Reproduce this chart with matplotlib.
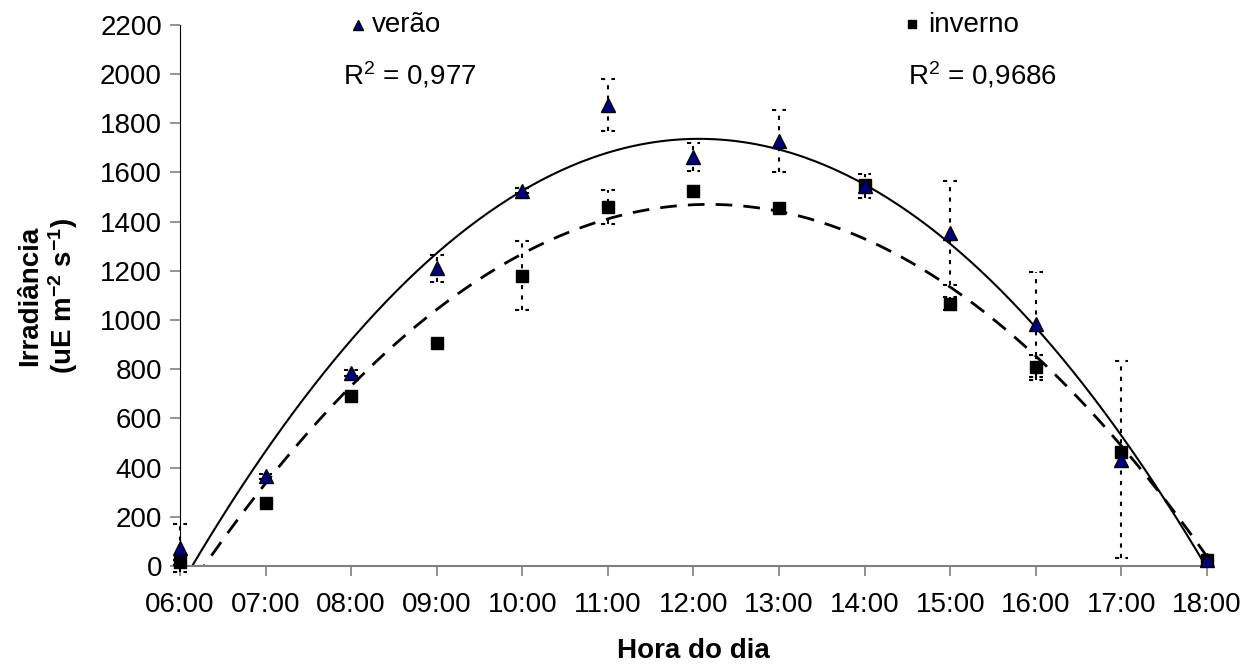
import numpy as np
import matplotlib
matplotlib.use('Agg')
import matplotlib.pyplot as plt
from matplotlib.lines import Line2D

plt.rcParams['font.family'] = ['Liberation Sans', 'DejaVu Sans']
plt.rcParams['mathtext.fontset'] = 'custom'
plt.rcParams['mathtext.rm'] = 'Liberation Sans'
plt.rcParams['mathtext.it'] = 'Liberation Sans'
plt.rcParams['mathtext.bf'] = 'Liberation Sans:bold'

#%% Data
horas = ['06:00', '07:00', '08:00', '09:00', '10:00', '11:00', '12:00',
         '13:00', '14:00', '15:00', '16:00', '17:00', '18:00']
hora_num = [6, 7, 8, 9, 10, 11, 12, 13, 14, 15, 16, 17, 18]

verao = [73, 364, 786, 1211, 1525, 1874, 1661, 1728, 1545, 1355, 982, 432, 25]
verao_err = [97, 12, 12, 55, 10, 107, 57, 125, 50, 211, 213, 400, 0]

inverno = [15, 258, 690, 905, 1181, 1460, 1525, 1457, 1549, 1067, 808, 462, 25]
inverno_err = [10, 0, 0, 0, 142, 70, 20, 0, 0, 25, 50, 0, 0]

r2_verao = '0,977'
r2_inverno = '0,9686'

#%% Settings
fsize = 20
cap = 0.08  # half width of error bar caps (hours)
cor_tri = '#000080'

fig = plt.figure(figsize=(12.54, 6.68), dpi=100)
ax = fig.add_axes([0.1435, 0.1527, 0.819, 0.81])

x = np.array(hora_num, dtype=float)

# 2nd order trendlines, like Excel
xx = np.linspace(6, 18, 300)
pv = np.polyfit(x, verao, 2)
pi = np.polyfit(x, inverno, 2)
ax.plot(xx, np.polyval(pv, xx), color='black', lw=1.5, zorder=2)
ax.plot(xx, np.polyval(pi, xx), color='black', lw=2, ls=(0, (6, 4)), zorder=2)

# error bars (dotted, with dotted caps)
for vals, errs in [(verao, verao_err), (inverno, inverno_err)]:
    v = np.array(vals, dtype=float)
    e = np.array(errs, dtype=float)
    m = e > 0
    ax.vlines(x[m], v[m] - e[m], v[m] + e[m], colors='black', lw=1.5,
              linestyles=(0, (2, 3)), zorder=3, clip_on=False)
    ax.hlines(v[m] + e[m], x[m] - cap, x[m] + cap, colors='black', lw=1.5,
              linestyles=(0, (2, 3)), zorder=3, clip_on=False)
    ax.hlines(v[m] - e[m], x[m] - cap, x[m] + cap, colors='black', lw=1.5,
              linestyles=(0, (2, 3)), zorder=3, clip_on=False)

ax.plot(x, inverno, ls='none', marker='s', ms=8.5, color='black', zorder=4, clip_on=False)
ax.plot(x, verao, ls='none', marker='^', ms=9.5, mfc=cor_tri, mec='black', mew=1,
        zorder=5, clip_on=False)

ax.set_xlim(6, 18)
ax.set_ylim(0, 2200)
ax.set_xticks(hora_num)
ax.set_xticklabels(horas)
ax.set_yticks(np.arange(0, 2201, 200))

for s in ['top', 'right']:
    ax.spines[s].set_visible(False)
ax.spines['left'].set_color('black')
ax.spines['bottom'].set_color('#808080')
ax.spines['bottom'].set_linewidth(1.5)
ax.tick_params(axis='both', labelsize=fsize, color='#808080', length=7, width=1.2)
ax.tick_params(axis='x', pad=12)
ax.tick_params(axis='y', pad=6)

ax.set_xlabel('Hora do dia', fontsize=fsize, fontweight='bold', labelpad=14)
ax.set_ylabel('Irradiância\n(uE m$^{\\mathbf{-2}}$ s$^{\\mathbf{-1}}$)', fontsize=fsize,
              fontweight='bold', labelpad=14, linespacing=1.15)

# legend-like labels at the top
fig.add_artist(Line2D([358 / 1254], [1 - 25 / 668], transform=fig.transFigure,
                      marker='^', ms=7, mfc=cor_tri, mec='black', ls='none'))
fig.text(372 / 1254, 1 - 25 / 668, 'verão', fontsize=fsize, va='center', ha='left')
fig.text(343 / 1254, 1 - 75 / 668, 'R$^2$ = ' + r2_verao, fontsize=fsize,
         va='center', ha='left')
fig.add_artist(Line2D([912 / 1254], [1 - 24 / 668], transform=fig.transFigure,
                      marker='s', ms=6, color='black', ls='none'))
fig.text(928 / 1254, 1 - 25 / 668, 'inverno', fontsize=fsize, va='center', ha='left')
fig.text(908 / 1254, 1 - 75 / 668, 'R$^2$ = ' + r2_inverno, fontsize=fsize,
         va='center', ha='left')

fig.savefig('out.png', dpi=100)
